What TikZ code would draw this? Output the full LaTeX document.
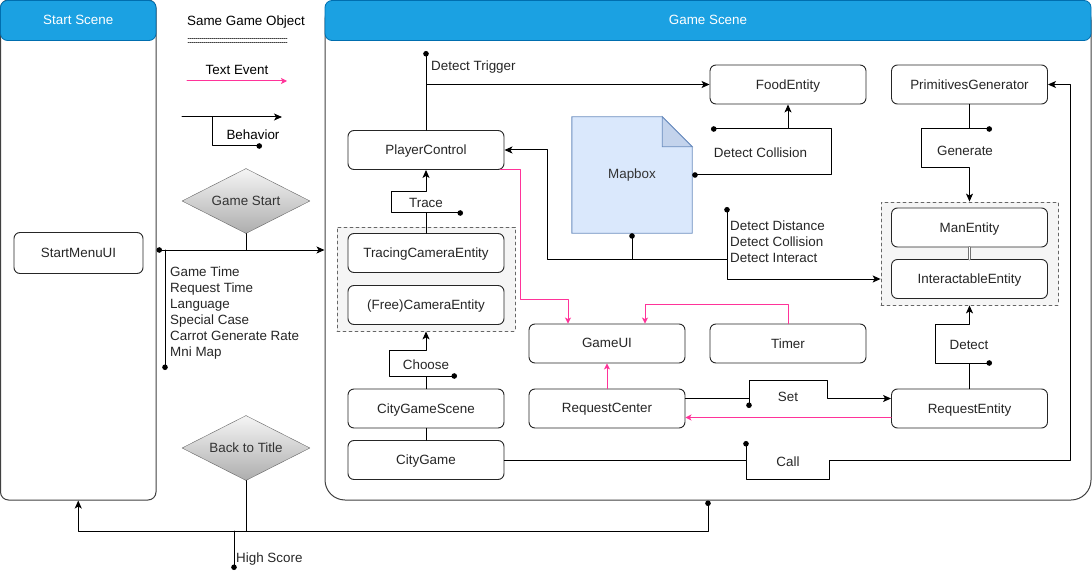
\documentclass[tikz,border=0pt]{standalone}
\usepackage{fontspec}
\setmainfont{Liberation Sans}
\usetikzlibrary{arrows.meta,positioning,shapes.geometric,backgrounds}
\definecolor{headblue}{HTML}{1BA1E2}
\definecolor{headline}{HTML}{006EAF}
\definecolor{evpink}{HTML}{FF3399}
\definecolor{mapfill}{HTML}{DAE8FC}
\definecolor{mapfold}{HTML}{C3D3EC}
\definecolor{mapline}{HTML}{6C8EBF}
\definecolor{grpfill}{HTML}{F5F5F5}
\definecolor{grpline}{HTML}{666666}
\tikzset{
  box/.style={rectangle,rounded corners=6pt,draw=black!85,fill=white,line width=0.9pt,minimum width=156pt,minimum height=39pt,inner sep=0pt,text=black!85,text depth=0.5pt},
  grp/.style={rectangle,draw=grpline,fill=grpfill,dashed,line width=0.8pt,inner sep=0pt},
  panel/.style={rectangle,draw=black!75,line width=1pt,inner sep=0pt},
  head/.style={rectangle,rounded corners=7pt,draw=headline,fill=headblue,text=white,line width=0.8pt,inner sep=0pt,text depth=0.5pt},
  decision/.style={diamond,aspect=2,draw=grpline,top color=black!4,bottom color=black!32,minimum width=128pt,minimum height=65pt,inner sep=0pt,text=black!80,text depth=0.5pt},
  notebox/.style={rectangle,minimum width=120pt,minimum height=116pt,inner sep=0pt,text=black!80},
  every picture/.style={line cap=round,line join=round}
}
\begin{document}
\begin{tikzpicture}[x=1pt,y=-1pt,>={Stealth[length=8pt,width=7pt,inset=2pt]},
  font=\fontsize{13.4}{16}\selectfont,
  beh/.style={draw=black,line width=1pt},
  dotarr/.style={beh,{Circle[length=5.5pt]}-{Stealth[length=8pt,width=7pt,inset=2pt]}},
  tag/.style={beh,-{Circle[length=5.5pt]}},
  evline/.style={draw=evpink,line width=1pt,-{Stealth[length=6pt,width=6pt,inset=1.5pt]}},
  same/.style={draw=black!55,double distance=1.6pt,line width=0.6pt},
  lbl/.style={inner sep=1pt,align=left,text=black!85}]
  \useasboundingbox (0,0) rectangle (1092,580);

  \node[panel,rounded corners=8pt,minimum width=155.5pt,minimum height=500pt] (ss) at (78.25,250) {};
  \node[panel,rounded corners=20pt,minimum width=766pt,minimum height=500pt] (gs) at (708,250) {};
  \node[head,minimum width=155.5pt,minimum height=40pt] (shead) at (78.25,20.5) {Start Scene};
  \node[head,minimum width=766pt,minimum height=40pt] (ghead) at (708,20.5) {Game Scene};

  \node (lsame) at (246,22) {Same Game Object};
  \coordinate (lsa) at (188,38);
  \coordinate (lsb) at (287,38);
  \draw[black!75,line width=0.8pt,dash pattern=on 1pt off 1pt] (lsa) -- (lsb);
  \draw[black!75,line width=0.8pt,dash pattern=on 1pt off 1pt] ([yshift=-4pt]lsa) -- ([yshift=-4pt]lsb);
  \node (ltext) at (237,70) {Text Event};
  \coordinate (lta) at (187,81);
  \coordinate (ltb) at (287,81);
  \draw[evline] (lta) -- (ltb);
  \coordinate (lba) at (182,117);
  \coordinate (lbb) at (282,117);
  \coordinate (lbj) at (212,117);
  \coordinate (lbc) at (262,146);
  \draw[beh,->] (lba) -- (lbb);
  \draw[tag] (lbj) |- (lbc);
  \node (lbeh) at (253,135) {Behavior};

  \node[box,minimum width=129pt,minimum height=41pt] (menu) at (78.5,253) {StartMenuUI};
  \node[decision] (gstart) at (246,201) {Game Start};
  \node[decision] (back) at (246,448) {Back to Title};

  \draw[dotarr] (ss.east) -- (gs.west);
  \draw[beh] (gstart.south) -- (gstart.south |- gs.west);
  \coordinate (optd) at (165,370);
  \draw[tag] (optd |- gs.west) -- (optd);
  \node[lbl,anchor=west] (opts) at (169,313) {Game Time\\Request Time\\Language\\Special Case\\Carrot Generate Rate\\Mni Map};

  \coordinate (hsj) at (234,531);
  \coordinate (hs) at (234,570);
  \draw[dotarr] (gs.south) -- (gs.south |- hsj) -| (ss.south);
  \draw[beh] (back.south) -- (back.south |- hsj);
  \draw[tag] (hsj) -- (hs);
  \node[lbl,anchor=west] (lhs) at (235,559) {High Score};

  \node[box] (pc) at (426,150) {PlayerControl};
  \node[box] (food) at (788,84.5) {FoodEntity};
  \node[box] (prim) at (969.5,84.5) {PrimitivesGenerator};
  \node[notebox] (map) at (632,175) {Mapbox};
  \begin{scope}[on background layer]
    \draw[fill=mapfill,draw=mapline,line width=0.9pt] (map.north west) -- ([xshift=-30pt]map.north east) -- ([yshift=-30pt]map.north east) -- (map.south east) -- (map.south west) -- cycle;
    \draw[fill=mapfold,draw=mapline,line width=0.9pt] ([xshift=-30pt]map.north east) -- ([xshift=-30pt,yshift=-30pt]map.north east) -- ([yshift=-30pt]map.north east) -- cycle;
  \end{scope}
  \node[grp,minimum width=178pt,minimum height=104pt] (camgrp) at (426,279) {};
  \node[box] (tracecam) at (426,253) {TracingCameraEntity};
  \node[box] (freecam) at (426,305) {(Free)CameraEntity};
  \node[box] (scene) at (426,408.5) {CityGameScene};
  \node[box] (city) at (426,460) {CityGame};
  \node[box] (ui) at (607,343.5) {GameUI};
  \node[box] (timer) at (788,343.5) {Timer};
  \node[box] (reqc) at (607,408.5) {RequestCenter};
  \node[box] (reqe) at (969.5,408.5) {RequestEntity};
  \node[grp,minimum width=177pt,minimum height=103pt] (entgrp) at (969.5,253.5) {};
  \node[box] (man) at (969.5,227.5) {ManEntity};
  \node[box] (inter) at (969.5,279) {InteractableEntity};
  \draw[same] (man.south) -- (inter.north);

  \coordinate (trig) at (426,51);
  \draw[beh,->] (pc.north) |- (food.west);
  \draw[tag] (pc.north |- food.west) -- (trig);
  \node[lbl,anchor=west] (ltrig) at (430,67) {Detect Trigger};

  \coordinate (dc1) at (831,129);
  \coordinate (dcoll) at (711,129);
  \draw[dotarr] (map.east) -| (dc1) -| (food.south);
  \draw[tag] (food.south |- dc1) -- (dcoll);
  \node[lbl] (ldcoll) at (760.5,153) {Detect Collision};

  \coordinate (mjoin) at (547,259);
  \coordinate (dd) at (727,207);
  \draw[dotarr] (map.south) |- (mjoin) |- (pc.east);
  \draw[beh,->] (map.south |- mjoin) -| (dd |- inter.west) -- (entgrp.west |- inter.west);
  \draw[tag] (dd |- mjoin) -- (dd);
  \node[lbl,anchor=west] (ldet) at (729,242) {Detect Distance\\Detect Collision\\Detect Interact};

  \coordinate (gtag) at (992,129);
  \coordinate (gen1) at (921,168);
  \draw[beh,->] (prim.south) -- (prim.south |- gtag) -| (gen1) -| (entgrp.north);
  \draw[tag] (prim.south |- gtag) -- (gtag);
  \node[lbl] (lgen) at (965,151) {Generate};

  \coordinate (dtag) at (992,363);
  \coordinate (det1) at (935,324);
  \draw[beh,->] (reqe.north) -- (reqe.north |- dtag) -| (det1) -| (entgrp.south);
  \draw[tag] (reqe.north |- dtag) -- (dtag);
  \node[lbl] (ldetect) at (969,345) {Detect};

  \coordinate (ttag) at (463,213);
  \coordinate (tr1) at (391,192);
  \draw[beh,->] (tracecam.north) -- (tracecam.north |- ttag) -| (tr1) -| (pc.south);
  \draw[tag] (tracecam.north |- ttag) -- (ttag);
  \node[lbl] (ltrace) at (426,203) {Trace};

  \coordinate (ctag) at (457,376);
  \coordinate (ch1) at (389,350);
  \draw[beh,->] (scene.north) -- (scene.north |- ctag) -| (ch1) -| (camgrp.south);
  \draw[tag] (scene.north |- ctag) -- (ctag);
  \node[lbl] (lchoose) at (426,365) {Choose};

  \draw[beh] (scene.south) -- (city.north);

  \coordinate (calltag) at (746,441);
  \coordinate (call1) at (829,479);
  \coordinate (call2) at (1070,460);
  \draw[beh,->] (city.east) -- (calltag |- city.east) |- (call1) |- (call2) |- (prim.east);
  \draw[tag] (calltag |- city.east) -- (calltag);
  \node[lbl] (lcall) at (788,462) {Call};

  \coordinate (setj) at (749,398.5);
  \coordinate (stag) at (749,408);
  \coordinate (set1) at (827,380);
  \draw[beh,->] ([yshift=10pt]reqc.east) -- (setj) |- (set1) |- ([yshift=10pt]reqe.west);
  \draw[tag] (setj) -- (stag);
  \node[lbl] (lset) at (788,397) {Set};

  \coordinate (tm1) at (645,304);
  \coordinate (pk1) at (520,299);
  \coordinate (pk2) at (568,299);
  \draw[evline] ([yshift=-9pt]reqe.west) -- ([yshift=-9pt]reqc.east);
  \draw[evline] (reqc.north) -- (ui.south);
  \draw[evline] (timer.north) |- (tm1) -- (tm1 |- ui.north);
  \draw[evline] ([xshift=-4pt]pc.south east) -| (pk1) -- (pk2) -- (pk2 |- ui.north);
\end{tikzpicture}
\end{document}
